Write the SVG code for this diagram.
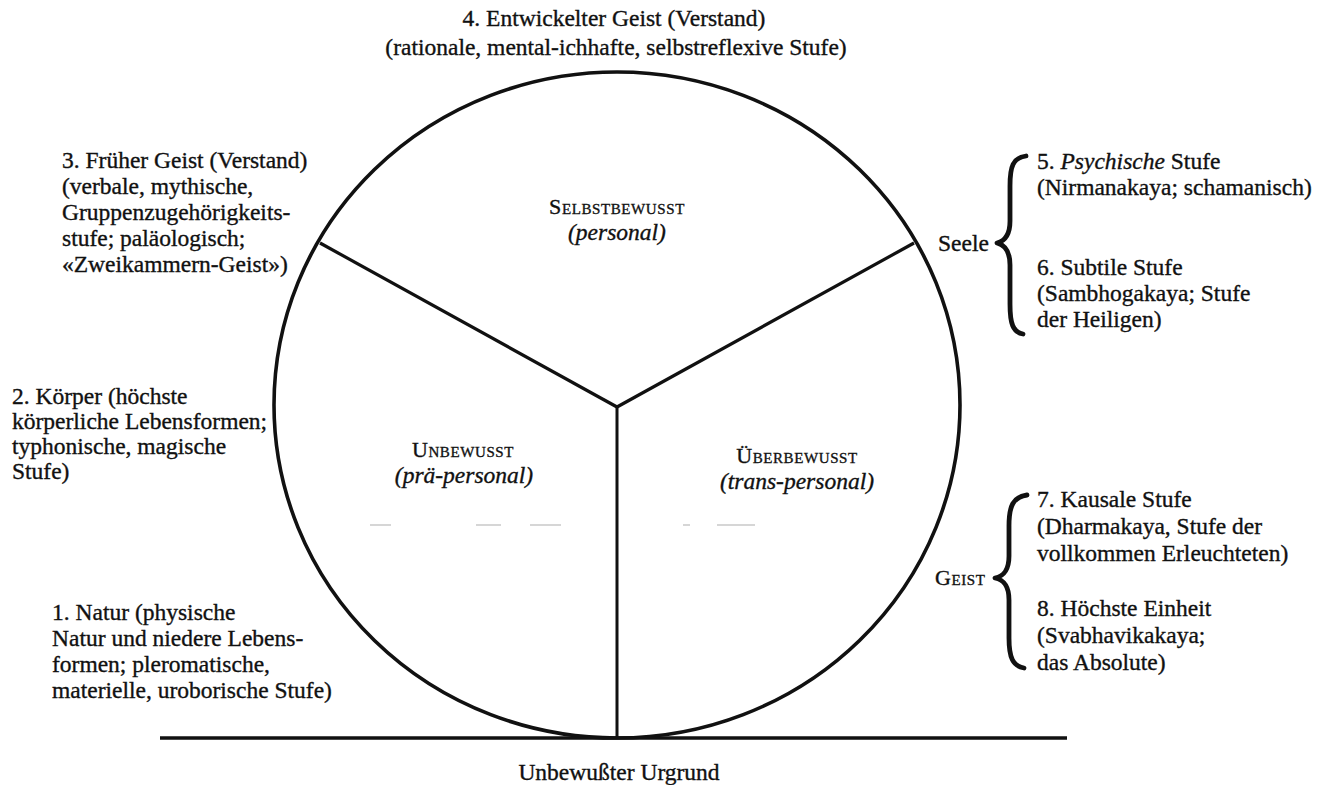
<svg xmlns="http://www.w3.org/2000/svg" width="1331" height="785" viewBox="0 0 1331 785">
<style>
text { font-family: "Liberation Serif", "Times New Roman", serif; font-size: 23.5px; fill: #111; stroke: #111; stroke-width: 0.35px; }
.c { text-anchor: middle; }
.sc { font-variant: small-caps; font-size: 22px; letter-spacing: 0.6px; }
.it { font-style: italic; }
.ln { stroke: #111; fill: none; }
.brace { stroke: #111; fill: none; stroke-width: 4.8; stroke-linecap: round; stroke-linejoin: round; }
.faint { stroke: #c8c8c8; stroke-width: 1.5; }
</style>
<rect width="1331" height="785" fill="#fff"/>

<g id="connectors">
  <ellipse class="ln" cx="617" cy="405" rx="343" ry="333" stroke-width="3.6"/>
  <line class="ln" x1="320" y1="243" x2="617" y2="407" stroke-width="3.2"/>
  <line class="ln" x1="914" y1="243" x2="617" y2="407" stroke-width="3.2"/>
  <line class="ln" x1="617" y1="407" x2="617" y2="738" stroke-width="3"/>
  <line class="ln" x1="160" y1="738" x2="1067" y2="738" stroke-width="3.6"/>
  <g id="faint-dashes">
    <line class="faint" x1="370" y1="525" x2="391" y2="525"/>
    <line class="faint" x1="476" y1="525" x2="501" y2="525"/>
    <line class="faint" x1="530" y1="525" x2="561" y2="525"/>
    <line class="faint" x1="683" y1="525" x2="690" y2="525"/>
    <line class="faint" x1="717" y1="525" x2="755" y2="525"/>
  </g>
</g>

<g id="title">
  <text class="c" x="614" y="26">4. Entwickelter Geist (Verstand)</text>
  <text class="c" x="616" y="55">(rationale, mental-ichhafte, selbstreflexive Stufe)</text>
</g>

<g id="stage3">
  <text x="62" y="168">3. Früher Geist (Verstand)</text>
  <text x="62" y="194">(verbale, mythische,</text>
  <text x="62" y="220">Gruppenzugehörigkeits-</text>
  <text x="62" y="246">stufe; paläologisch;</text>
  <text x="62" y="272">«Zweikammern-Geist»)</text>
</g>

<g id="stage2">
  <text x="12" y="404">2. Körper (höchste</text>
  <text x="12" y="429">körperliche Lebensformen;</text>
  <text x="12" y="454">typhonische, magische</text>
  <text x="12" y="479">Stufe)</text>
</g>

<g id="stage1">
  <text x="52" y="620">1. Natur (physische</text>
  <text x="52" y="646">Natur und niedere Lebens-</text>
  <text x="52" y="672">formen; pleromatische,</text>
  <text x="52" y="698">materielle, uroborische Stufe)</text>
</g>

<g id="ground">
  <text class="c" x="619" y="780">Unbewußter Urgrund</text>
</g>

<g id="selbstbewusst">
  <text class="c sc" x="617" y="214">Selbstbewusst</text>
  <text class="c it" x="617" y="240">(personal)</text>
</g>

<g id="unbewusst">
  <text class="c sc" x="463" y="457">Unbewusst</text>
  <text class="c it" x="464" y="483">(prä-personal)</text>
</g>

<g id="ueberbewusst">
  <text class="c sc" x="797" y="463">Überbewusst</text>
  <text class="c it" x="797" y="489">(trans-personal)</text>
</g>

<g id="seele">
  <text x="938" y="251">Seele</text>
  <path class="brace" d="M1026,156 C1013,158 1010,166 1010,186 L1010,221 C1010,235 1005,241 997,243 C1005,245 1010,251 1010,265 L1010,304 C1010,324 1013,332 1023,334"/>
</g>

<g id="stage5-6">
  <text x="1037" y="169">5. <tspan class="it">Psychische</tspan> Stufe</text>
  <text x="1037" y="195">(Nirmanakaya; schamanisch)</text>
  <text x="1037" y="275">6. Subtile Stufe</text>
  <text x="1037" y="301">(Sambhogakaya; Stufe</text>
  <text x="1037" y="327">der Heiligen)</text>
</g>

<g id="geist">
  <text class="sc" x="935" y="585">Geist</text>
  <path class="brace" d="M1027,495 C1013,497 1009,506 1009,526 L1009,556 C1009,570 1004,576 995,578 C1004,580 1009,586 1009,600 L1009,638 C1009,658 1013,666 1024,668"/>
</g>

<g id="stage7-8">
  <text x="1037" y="507">7. Kausale Stufe</text>
  <text x="1037" y="534">(Dharmakaya, Stufe der</text>
  <text x="1037" y="561">vollkommen Erleuchteten)</text>
  <text x="1037" y="616">8. Höchste Einheit</text>
  <text x="1037" y="643">(Svabhavikakaya;</text>
  <text x="1037" y="670">das Absolute)</text>
</g>
</svg>
